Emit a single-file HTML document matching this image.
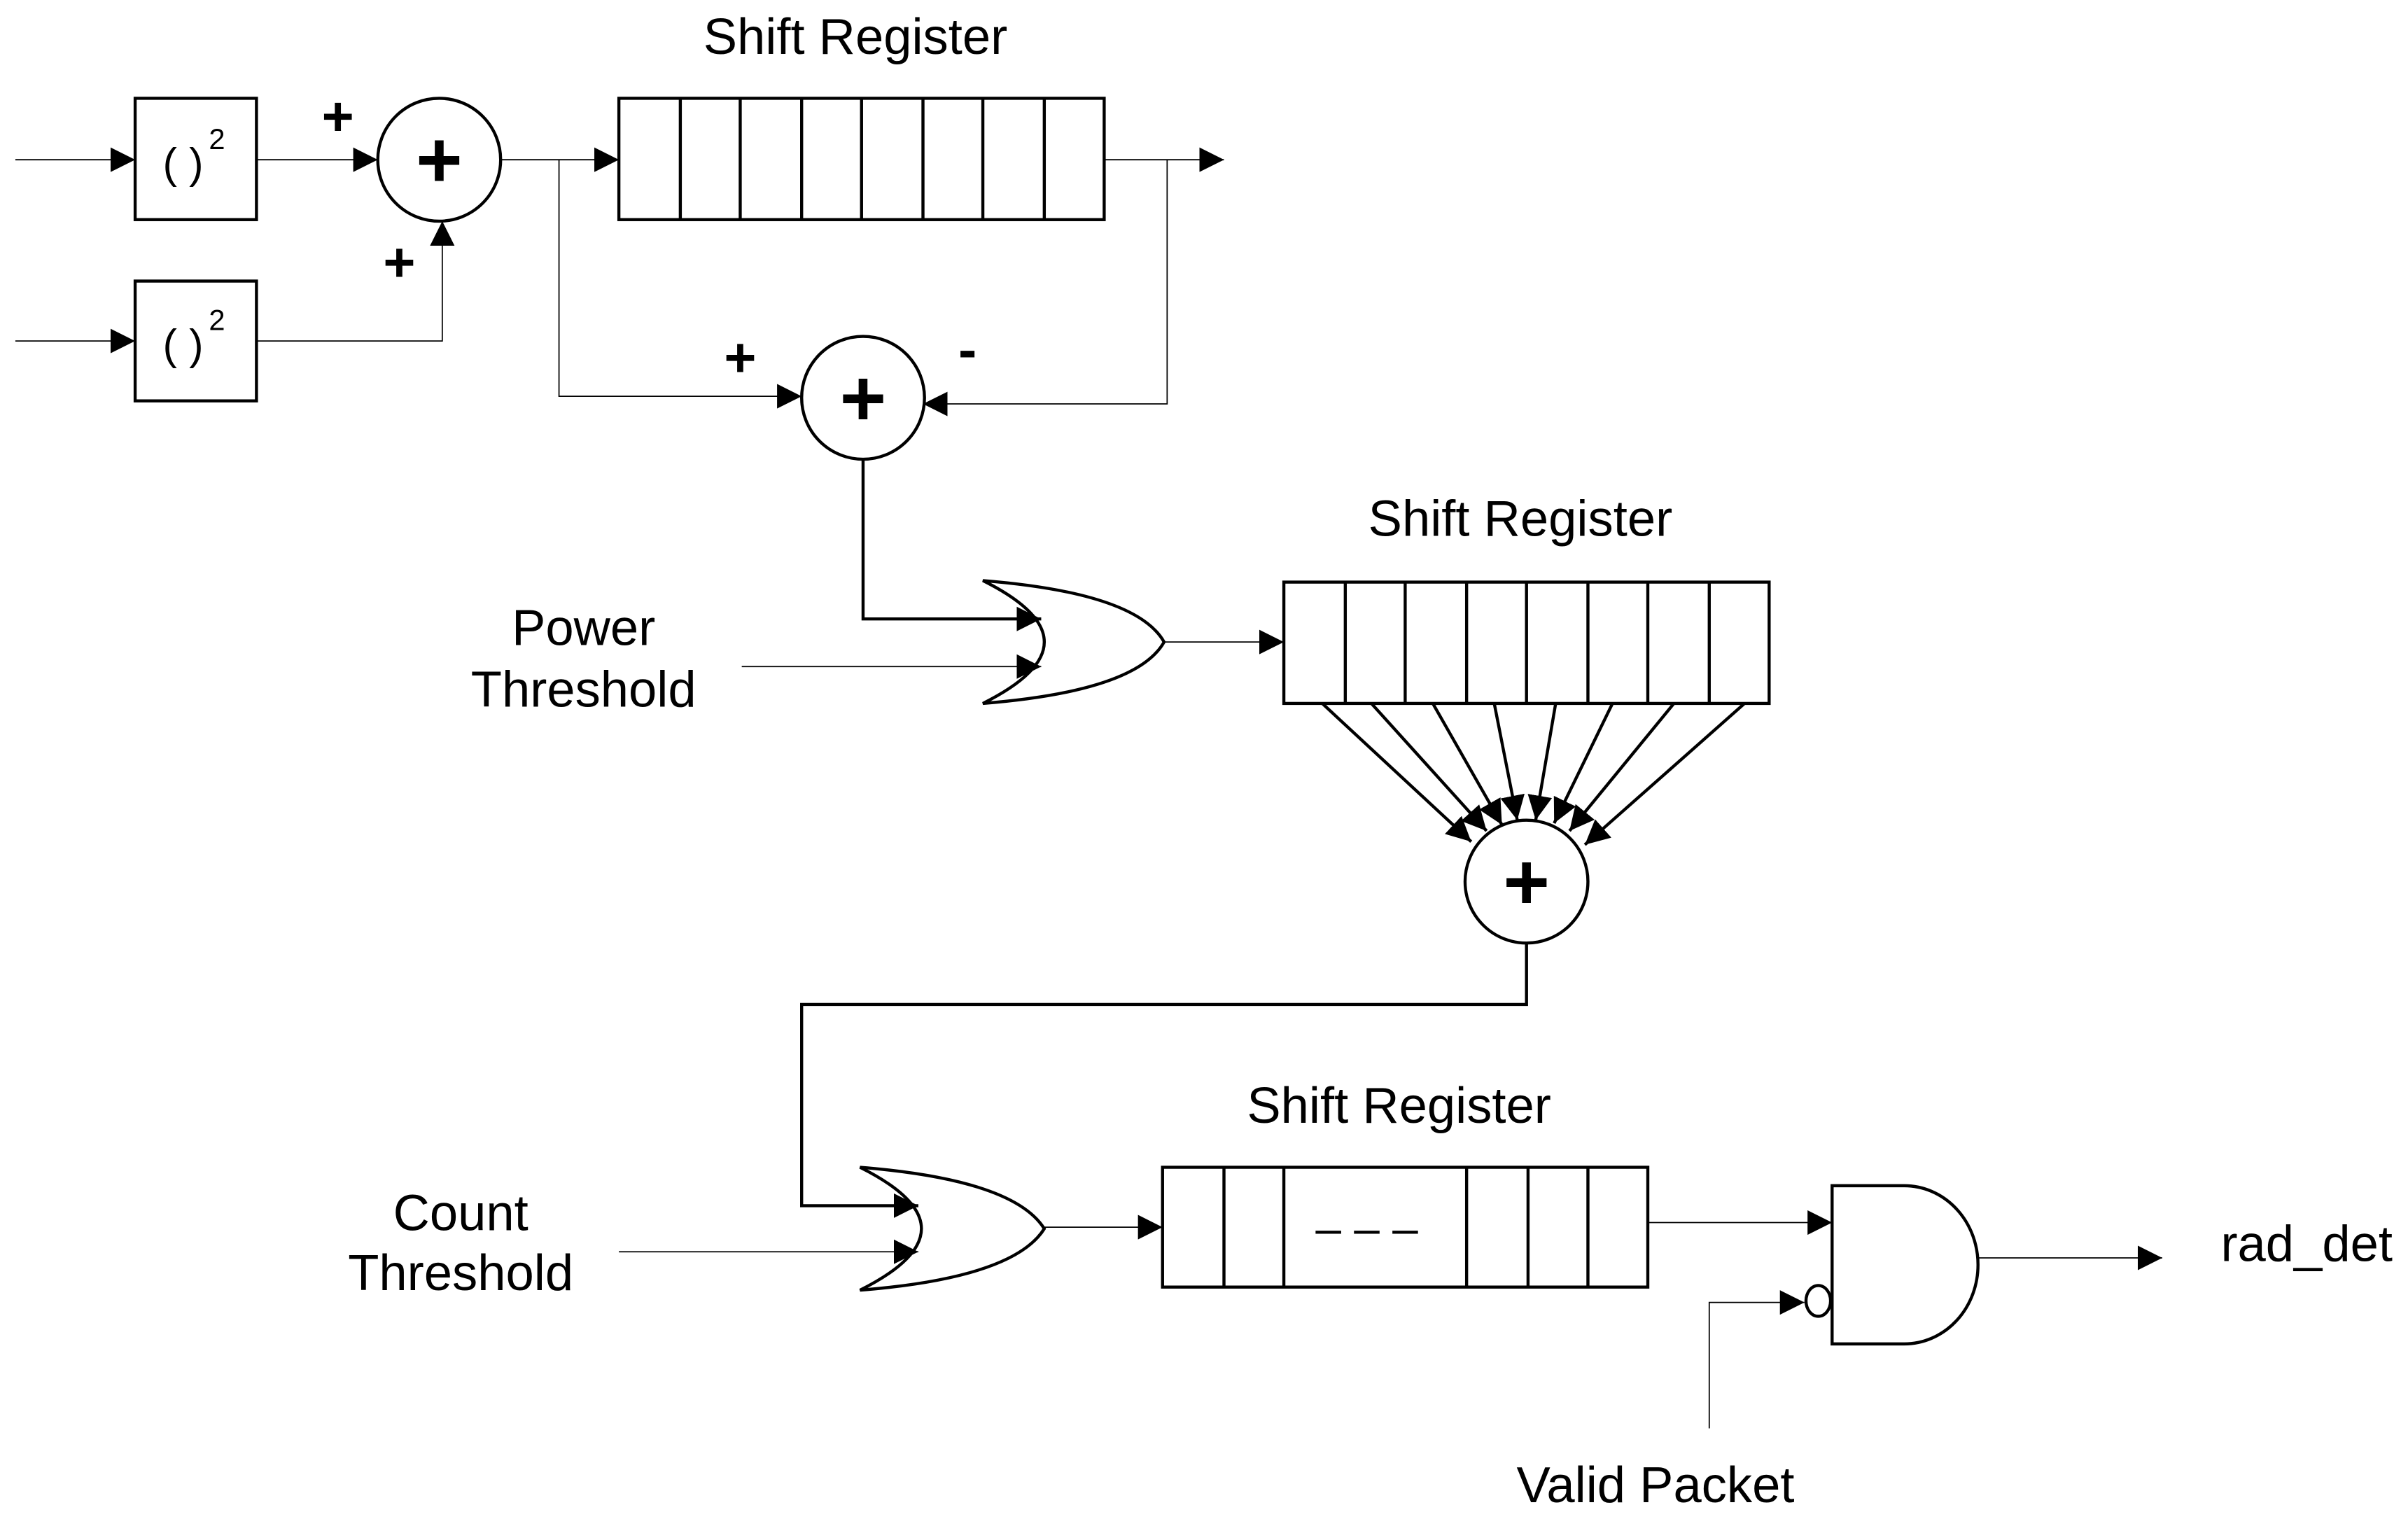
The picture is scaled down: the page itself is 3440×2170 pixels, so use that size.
<!DOCTYPE html>
<html><head><meta charset="utf-8"><style>html,body{margin:0;padding:0;background:#fff}svg{display:block}</style></head>
<body>
<svg width="3440" height="2170" viewBox="0 0 1568 989" preserveAspectRatio="none" xmlns="http://www.w3.org/2000/svg" font-family="Liberation Sans, sans-serif">
<defs>
<marker id="a" viewBox="0 0 10 10" refX="10" refY="5" markerWidth="16" markerHeight="16" markerUnits="userSpaceOnUse" orient="auto"><path d="M0,0 L10,5 L0,10z" fill="#000"/></marker>
</defs>
<g fill="none" stroke="#000" stroke-width="0.8">
<line x1="10" y1="104" x2="88" y2="104" marker-end="url(#a)"/>
<line x1="10" y1="222" x2="88" y2="222" marker-end="url(#a)"/>
<line x1="167" y1="104" x2="246" y2="104" marker-end="url(#a)"/>
<polyline points="167,222 288,222 288,144" marker-end="url(#a)"/>
<line x1="326" y1="104" x2="403" y2="104" marker-end="url(#a)"/>
<line x1="719" y1="104" x2="797" y2="104" marker-end="url(#a)"/>
<polyline points="760,104 760,263 601,263" marker-end="url(#a)"/>
<polyline points="364,104 364,258 522,258" marker-end="url(#a)"/>
<line x1="483" y1="434" x2="678" y2="434" marker-end="url(#a)"/>
<line x1="758" y1="418" x2="836" y2="418" marker-end="url(#a)"/>
<line x1="403" y1="815" x2="598" y2="815" marker-end="url(#a)"/>
<line x1="680" y1="799" x2="757" y2="799" marker-end="url(#a)"/>
<line x1="1073" y1="796" x2="1193" y2="796" marker-end="url(#a)"/>
<polyline points="1113,930 1113,848 1175,848" marker-end="url(#a)"/>
<line x1="1288" y1="819" x2="1408" y2="819" marker-end="url(#a)"/>
</g>
<g fill="none" stroke="#000" stroke-width="2">
<polyline points="562,299 562,403 678,403" marker-end="url(#a)"/>
<polyline points="994,614 994,654 522,654 522,785 598,785" marker-end="url(#a)"/>
<rect x="88" y="64" width="79" height="79"/>
<rect x="88" y="183" width="79" height="78"/>
<circle cx="286" cy="104" r="40"/>
<circle cx="562" cy="259" r="40"/>
<circle cx="994" cy="574" r="40"/>
<rect x="403" y="64" width="316" height="79"/>
<rect x="836" y="379" width="316" height="79"/>
<rect x="757" y="760" width="316" height="78"/>
<path d="M640,378 Q720,418 640,458 Q740,450 758,418 Q740,386 640,378z"/>
<path d="M560,760 Q640,800 560,840 Q660,832 680,800 Q660,768 560,760z"/>
<path d="M1193,772 L1240,772 A48,51.5 0 0 1 1240,875 L1193,875z"/>
<ellipse cx="1184" cy="847" rx="8" ry="10"/>
</g>
<g stroke="#000" stroke-width="2">
<line x1="443" y1="64" x2="443" y2="143"/><line x1="482" y1="64" x2="482" y2="143"/><line x1="522" y1="64" x2="522" y2="143"/><line x1="561" y1="64" x2="561" y2="143"/><line x1="601" y1="64" x2="601" y2="143"/><line x1="640" y1="64" x2="640" y2="143"/><line x1="680" y1="64" x2="680" y2="143"/>
<line x1="876" y1="379" x2="876" y2="458"/><line x1="915" y1="379" x2="915" y2="458"/><line x1="955" y1="379" x2="955" y2="458"/><line x1="994" y1="379" x2="994" y2="458"/><line x1="1034" y1="379" x2="1034" y2="458"/><line x1="1073" y1="379" x2="1073" y2="458"/><line x1="1113" y1="379" x2="1113" y2="458"/>
<line x1="797" y1="760" x2="797" y2="838"/><line x1="836" y1="760" x2="836" y2="838"/><line x1="955" y1="760" x2="955" y2="838"/><line x1="995" y1="760" x2="995" y2="838"/><line x1="1034" y1="760" x2="1034" y2="838"/>
<line x1="861" y1="458" x2="958" y2="548" marker-end="url(#a)"/>
<line x1="893" y1="458" x2="968" y2="541" marker-end="url(#a)"/>
<line x1="933" y1="458" x2="978" y2="537" marker-end="url(#a)"/>
<line x1="973" y1="458" x2="988" y2="534" marker-end="url(#a)"/>
<line x1="1013" y1="458" x2="1000" y2="534" marker-end="url(#a)"/>
<line x1="1050" y1="458" x2="1012" y2="536" marker-end="url(#a)"/>
<line x1="1090" y1="458" x2="1022" y2="541" marker-end="url(#a)"/>
<line x1="1136" y1="458" x2="1032" y2="550" marker-end="url(#a)"/>
</g>
<g font-size="33" text-anchor="middle" fill="#000">
<text x="557" y="35">Shift Register</text>
<text x="990" y="349">Shift Register</text>
<text x="911" y="731">Shift Register</text>
<text x="380" y="420">Power</text>
<text x="380" y="460">Threshold</text>
<text x="300" y="801">Count</text>
<text x="300" y="840">Threshold</text>
<text x="1078" y="978">Valid Packet</text>
<text x="1502" y="821">rad_det</text>
<text x="890" y="810" font-size="30">– – –</text>
</g>
<g font-size="28" fill="#000">
<text x="106" y="116">( )</text><text x="136" y="97" font-size="19">2</text>
<text x="106" y="234">( )</text><text x="136" y="215" font-size="19">2</text>
</g>
<g font-size="52" font-weight="bold" text-anchor="middle" fill="#000">
<text x="286" y="122">+</text>
<text x="562" y="277">+</text>
<text x="994" y="592">+</text>
<text x="220" y="88" font-size="36">+</text>
<text x="260" y="183" font-size="36">+</text>
<text x="482" y="245" font-size="36">+</text>
<text x="630" y="240" font-size="36">-</text>
</g>
</svg>
</body></html>
